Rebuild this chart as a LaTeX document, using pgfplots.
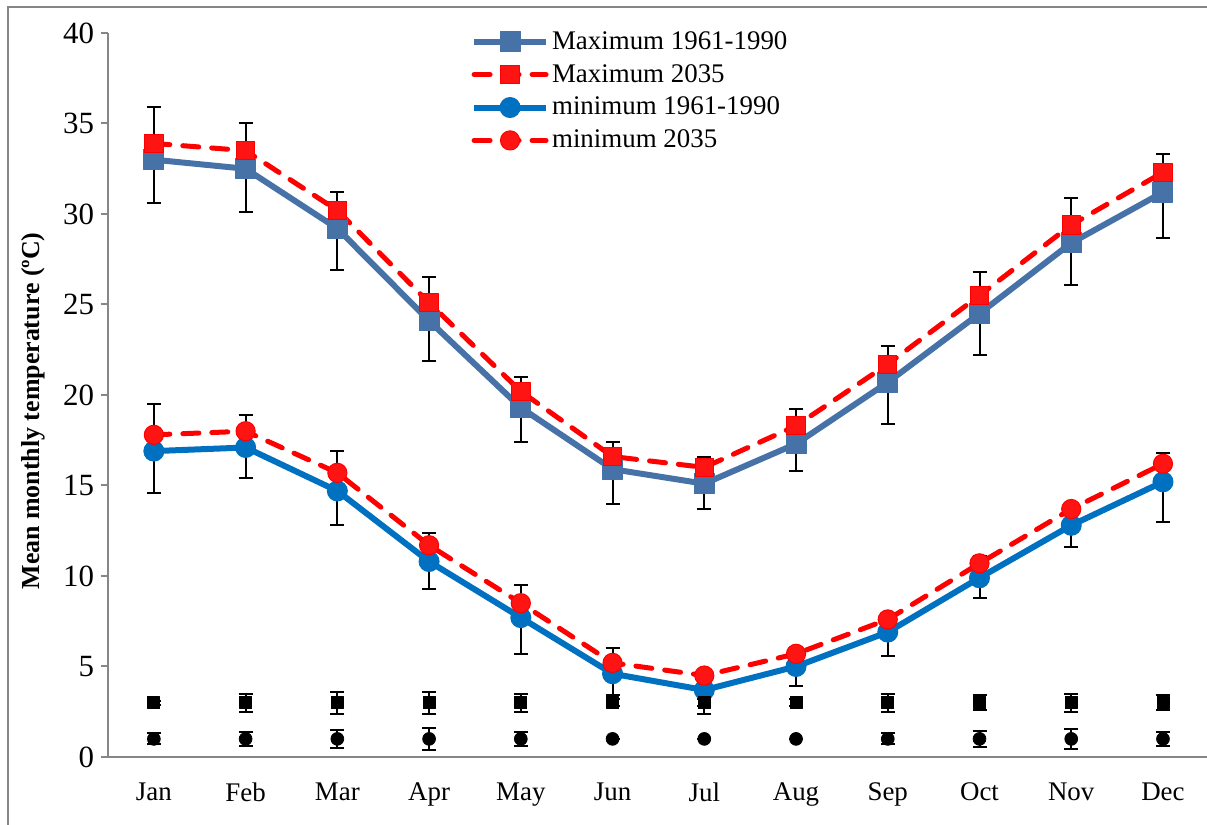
\documentclass[border=0pt]{standalone}
\usepackage{fontspec}
\setmainfont{Liberation Serif}
\usepackage{pgfplots}
\pgfplotsset{compat=1.18}
\usepackage{pgfplotstable}
\definecolor{maxblue}{RGB}{70,114,168}
\definecolor{minblue}{RGB}{0,112,192}
\definecolor{axgray}{RGB}{134,134,134}
\definecolor{redser}{RGB}{255,0,0}

\pgfplotstableread{
m max1961 maxep maxem max2035 min1961 minep minem min2035
1  33.0 2.9 2.4 33.9 16.9 2.6 2.3 17.8
2  32.5 2.5 2.4 33.5 17.1 1.8 1.7 18.0
3  29.2 2.0 2.3 30.2 14.7 2.2 1.9 15.7
4  24.1 2.4 2.2 25.1 10.8 1.6 1.5 11.7
5  19.3 1.7 1.9 20.2 7.7  1.8 2.0 8.5
6  15.9 1.5 1.9 16.6 4.6  1.4 1.2 5.2
7  15.1 1.5 1.4 16.0 3.7  1.1 1.3 4.5
8  17.3 1.9 1.5 18.3 5.0  0.9 1.1 5.7
9  20.7 2.0 2.3 21.7 6.9  1.0 1.3 7.6
10 24.5 2.3 2.3 25.5 9.9  1.2 1.1 10.7
11 28.4 2.5 2.3 29.4 12.8 1.2 1.2 13.7
12 31.2 2.1 2.5 32.3 15.2 1.6 2.2 16.2
}\data

\pgfplotstableread{
m sq sqe ci cie
1  3 0.1 1 0.3
2  3 0.5 1 0.4
3  3 0.6 1 0.5
4  3 0.6 1 0.6
5  3 0.5 1 0.4
6  3 0.2 1 0.0
7  3 0.2 1 0.0
8  3 0.2 1 0.0
9  3 0.5 1 0.3
10 3 0.4 1 0.45
11 3 0.5 1 0.55
12 3 0.4 1 0.4
}\low

\begin{document}
\begin{tikzpicture}
\useasboundingbox (-54bp,-34bp) rectangle (549.5bp,378.5bp);
\draw[axgray, line width=1bp] (-50bp,-80bp) rectangle (620bp,375bp);
\begin{axis}[
  at={(0,0)}, anchor=south west, scale only axis,
  width=549.5bp, height=362bp,
  xmin=0.5, xmax=12.48, ymin=0, ymax=40,
  axis x line*=bottom, axis y line*=left,
  axis line style={axgray, line width=1.2bp},
  xtick={1,...,12},
  xticklabels={Jan,Feb,Mar,Apr,May,Jun,Jul,Aug,Sep,Oct,Nov,Dec},
  x tick style={draw=none},
  ytick={0,5,...,40},
  tick align=outside,
  major tick length=3.5bp,
  y tick style={axgray, line width=1bp},
  /pgf/number format/assume math mode=true,
  tick label style={font=\fontsize{13.5}{16}\selectfont, black},
  yticklabel style={font=\fontsize{15.5}{18}\selectfont},
  xticklabel style={yshift=-6bp},
  ylabel={\textbf{Mean monthly temperature (ºC)}},
  ylabel style={font=\fontsize{13}{15}\selectfont, at={(axis description cs:-0.0682,0.478)}, anchor=center},
  legend style={at={(axis description cs:0.330,1.007)}, anchor=north west,
    draw=none, fill=none, inner sep=0pt, row sep=3bp,
    font=\fontsize{13.5}{16}\selectfont,
    nodes={inner sep=1.5bp, anchor=west}},
  legend cell align=left,
  legend image code/.code={\draw[mark repeat=2, mark phase=2, #1] plot coordinates {(0bp,0bp) (18bp,0bp) (36bp,0bp)};},
  line join=round,
]
% error bars (drawn beneath)
\addplot[forget plot, draw=none, mark=none,
  error bars/.cd, y dir=both, y explicit,
  error bar style={draw=black, line width=1bp, solid},
  error mark options={draw=black, rotate=90, mark size=3.5bp, line width=1bp, solid}]
  table[x=m, y=max1961, y error plus=maxep, y error minus=maxem] {\data};
\addplot[forget plot, draw=none, mark=none,
  error bars/.cd, y dir=both, y explicit,
  error bar style={draw=black, line width=1bp, solid},
  error mark options={draw=black, rotate=90, mark size=3.5bp, line width=1bp, solid}]
  table[x=m, y=min1961, y error plus=minep, y error minus=minem] {\data};
\addplot[forget plot, draw=none, mark=none,
  error bars/.cd, y dir=both, y explicit,
  error bar style={draw=black, line width=1bp, solid},
  error mark options={draw=black, rotate=90, mark size=3.5bp, line width=1bp, solid}]
  table[x=m, y=sq, y error=sqe] {\low};
\addplot[forget plot, draw=none, mark=none,
  error bars/.cd, y dir=both, y explicit,
  error bar style={draw=black, line width=1bp, solid},
  error mark options={draw=black, rotate=90, mark size=3.5bp, line width=1bp, solid}]
  table[x=m, y=ci, y error=cie] {\low};
% series
\addplot[maxblue, line width=3bp, mark=square*, mark size=5bp,
  mark options={solid, fill=maxblue, draw=maxblue, line width=0.5bp}]
  table[x=m, y=max1961] {\data};
\addlegendentry{Maximum 1961-1990}
\addplot[redser, line width=2.5bp, dash pattern=on 8bp off 6.5bp, line cap=round,
  mark=square*, mark size=4.6bp,
  mark options={solid, fill=redser!92!white, draw=redser, line width=0.5bp}]
  table[x=m, y=max2035] {\data};
\addlegendentry{Maximum 2035}
\addplot[minblue, line width=3bp, mark=*, mark size=5bp,
  mark options={solid, fill=minblue, draw=minblue, line width=0.5bp}]
  table[x=m, y=min1961] {\data};
\addlegendentry{minimum 1961-1990}
\addplot[redser, line width=2.5bp, dash pattern=on 8bp off 6.5bp, line cap=round,
  mark=*, mark size=4.8bp,
  mark options={solid, fill=redser!92!white, draw=redser, line width=0.5bp}]
  table[x=m, y=min2035] {\data};
\addlegendentry{minimum 2035}
\addplot[forget plot, only marks, black, mark=square*, mark size=3bp]
  table[x=m, y=sq] {\low};
\addplot[forget plot, only marks, black, mark=*, mark size=3.2bp]
  table[x=m, y=ci] {\low};
\end{axis}
\end{tikzpicture}
\end{document}
